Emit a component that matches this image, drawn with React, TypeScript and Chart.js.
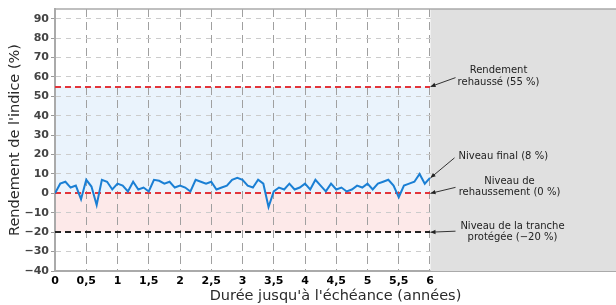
import React, { useEffect, useRef } from "react";
import { Chart, registerables } from "chart.js";

Chart.register(...registerables);

// ---- data ----
const monthlyReturns: number[] = [
  0, 5, 6, 3, 4, -3, 7, 3.5, -6, 7, 6, 2,
  5, 4, 1, 6, 2, 3, 1, 7, 6.5, 5, 6, 3,
  4, 3, 1, 7, 6, 5, 6, 2, 3, 4, 7, 8,
  7, 4, 3, 7, 5, -7, 1, 3, 2, 5, 2, 3,
  5, 2, 7, 4, 1, 5, 2, 3, 1, 2, 4, 3,
  5, 2, 5, 6, 7, 4, -2, 4, 5, 6, 10, 5,
  8,
];
const xTickValues: number[] = [0, 0.5, 1, 1.5, 2, 2.5, 3, 3.5, 4, 4.5, 5, 5.5, 6];
const yTickValues: number[] = [-40, -30, -20, -10, 0, 10, 20, 30, 40, 50, 60, 70, 80, 90];
const maturityYears = 6;
const xAxisEnd = 8.976;
const yMin = -40;
const yMax = 95;
const enhancedReturn = 55;
const enhancementLevel = 0;
const protectedLevel = -20;
const finalLevel = 8;

const xTitle = "Durée jusqu'à l'échéance (années)";
const yTitle = "Rendement de l'indice (%)";

const labelEnhanced = ["Rendement", "rehaussé (55 %)"];
const labelFinal = ["Niveau final (8 %)"];
const labelEnhLevel = ["Niveau de", "rehaussement (0 %)"];
const labelProtected = ["Niveau de la tranche", "protégée (\u221220 %)"];

const fmt = (v: number) => {
  const s = String(Math.abs(v)).replace(".", ",");
  return v < 0 ? "\u2212" + s : s;
};

export default function App() {
  const ref = useRef<HTMLCanvasElement | null>(null);

  useEffect(() => {
    if (!ref.current) return;

    const annotations = [
      { value: enhancedReturn, lines: labelEnhanced, align: "center", tdx: 68, tdy: -16, sdx: 25, sdy: -9 },
      { value: finalLevel, lines: labelFinal, align: "left", tdx: 28, tdy: -21, sdx: 24, sdy: -20 },
      { value: enhancementLevel, lines: labelEnhLevel, align: "center", tdx: 79, tdy: -12, sdx: 25, sdy: -6 },
      { value: protectedLevel, lines: labelProtected, align: "center", tdx: 82, tdy: -6, sdx: 25, sdy: -1 },
    ];

    const refLines = [
      { value: enhancedReturn, color: "#e3343a" },
      { value: enhancementLevel, color: "#e3343a" },
      { value: protectedLevel, color: "#222222" },
    ];

    const plugin = {
      id: "decor",
      beforeDraw(chart: any) {
        const { ctx, scales } = chart;
        const x = scales.x, y = scales.y;
        const x0 = x.getPixelForValue(0);
        const x6 = x.getPixelForValue(maturityYears);
        ctx.save();
        ctx.fillStyle = "#ffffff";
        ctx.fillRect(0, 0, chart.width, chart.height);
        ctx.fillStyle = "#eaf3fc";
        ctx.fillRect(x0, y.getPixelForValue(enhancedReturn), x6 - x0,
          y.getPixelForValue(enhancementLevel) - y.getPixelForValue(enhancedReturn));
        ctx.fillStyle = "#fde9e9";
        ctx.fillRect(x0, y.getPixelForValue(enhancementLevel), x6 - x0,
          y.getPixelForValue(protectedLevel) - y.getPixelForValue(enhancementLevel));
        ctx.restore();
      },
      beforeDatasetsDraw(chart: any) {
        const { ctx, chartArea, scales } = chart;
        const x = scales.x, y = scales.y;
        const x0 = x.getPixelForValue(0);
        const x6 = x.getPixelForValue(maturityYears);
        ctx.save();
        ctx.fillStyle = "#e0e0e0";
        ctx.fillRect(x6 + 0.5, chartArea.top, chartArea.right - x6, chartArea.bottom - chartArea.top);
        ctx.lineWidth = 2;
        ctx.setLineDash([6, 4]);
        for (const r of refLines) {
          const py = Math.round(y.getPixelForValue(r.value));
          ctx.strokeStyle = r.color;
          ctx.beginPath();
          ctx.moveTo(x0, py);
          ctx.lineTo(x6, py);
          ctx.stroke();
        }
        ctx.restore();
      },
      afterDraw(chart: any) {
        const { ctx, chartArea, scales } = chart;
        const x = scales.x, y = scales.y;
        const x6 = x.getPixelForValue(maturityYears);
        ctx.save();
        ctx.strokeStyle = "#aaaaaa";
        ctx.lineWidth = 1.5;
        ctx.beginPath();
        ctx.moveTo(chartArea.left, chartArea.top);
        ctx.lineTo(chartArea.right, chartArea.top);
        ctx.stroke();
        ctx.font = "10px 'DejaVu Sans'";
        ctx.textBaseline = "middle";
        for (const a of annotations) {
          const ax = x6 + 0.5;
          const ay = y.getPixelForValue(a.value);
          const sx = ax + a.sdx, sy = ay + a.sdy;
          ctx.strokeStyle = "#333333";
          ctx.lineWidth = 1;
          ctx.beginPath();
          ctx.moveTo(sx, sy);
          ctx.lineTo(ax, ay);
          ctx.stroke();
          const ang = Math.atan2(ay - sy, ax - sx);
          const L = 5, W = 2.2;
          ctx.fillStyle = "#222222";
          ctx.beginPath();
          ctx.moveTo(ax, ay);
          ctx.lineTo(ax - L * Math.cos(ang) + W * Math.sin(ang), ay - L * Math.sin(ang) - W * Math.cos(ang));
          ctx.lineTo(ax - L * Math.cos(ang) - W * Math.sin(ang), ay - L * Math.sin(ang) + W * Math.cos(ang));
          ctx.closePath();
          ctx.fill();
          ctx.textAlign = a.align as CanvasTextAlign;
          a.lines.forEach((t, i) => {
            ctx.fillText(t, ax + a.tdx, ay + a.tdy + i * 11.5);
          });
        }
        ctx.restore();
      },
    };

    const chart = new Chart(ref.current, {
      type: "line",
      data: {
        datasets: [
          {
            label: "Rendement",
            data: monthlyReturns.map((v, i) => ({ x: i / 12, y: v })),
            borderColor: "#1a7fd4",
            borderWidth: 2,
            pointRadius: 0,
            tension: 0,
            fill: false,
          },
        ],
      },
      options: {
        responsive: false,
        animation: false,
        devicePixelRatio: 1,
        layout: { padding: { top: 9, left: 0, right: 0, bottom: 0 } },
        plugins: { legend: { display: false }, tooltip: { enabled: false } },
        scales: {
          x: {
            type: "linear",
            min: 0,
            max: xAxisEnd,
            afterFit: (s: any) => { s.height = 34; },
            afterBuildTicks: (s: any) => {
              s.ticks = xTickValues.map((v) => ({ value: v }));
            },
            ticks: {
              autoSkip: false,
              maxRotation: 0,
              padding: 4,
              color: "#000000",
              font: { size: 11, weight: "bold", family: "'DejaVu Sans'" },
              callback: (v: any) => fmt(Number(v)),
            },
            grid: { color: "#a0a0a0", lineWidth: 1, drawTicks: false },
            border: { color: "#aaaaaa", width: 2, dash: [8, 5] },
            title: {
              display: true,
              text: xTitle,
              color: "#2a2a2a",
              font: { size: 14.5, family: "'DejaVu Sans'" },
              padding: { top: 0, bottom: 0 },
            },
          },
          y: {
            type: "linear",
            min: yMin,
            max: yMax,
            afterFit: (s: any) => { s.width = 55; },
            afterBuildTicks: (s: any) => {
              s.ticks = yTickValues.map((v) => ({ value: v }));
            },
            ticks: {
              padding: 2,
              color: "#444444",
              font: { size: 11, weight: "bold", family: "'DejaVu Sans'" },
              callback: (v: any) => fmt(Number(v)),
            },
            grid: { color: "#cccccc", lineWidth: 1, tickLength: 4, tickColor: "#999999" },
            border: { color: "#aaaaaa", width: 2, dash: [5, 5] },
            title: {
              display: true,
              text: yTitle,
              color: "#2a2a2a",
              font: { size: 14.5, family: "'DejaVu Sans'" },
              padding: { top: 7, bottom: 0 },
            },
          },
        },
      },
      plugins: [plugin],
    } as any);

    return () => chart.destroy();
  }, []);

  return (
    <div style={{ position: "absolute", left: 0, top: 0, width: 616, height: 305 }}>
      <canvas ref={ref} width={616} height={305} style={{ display: "block", width: 616, height: 305 }} />
    </div>
  );
}
